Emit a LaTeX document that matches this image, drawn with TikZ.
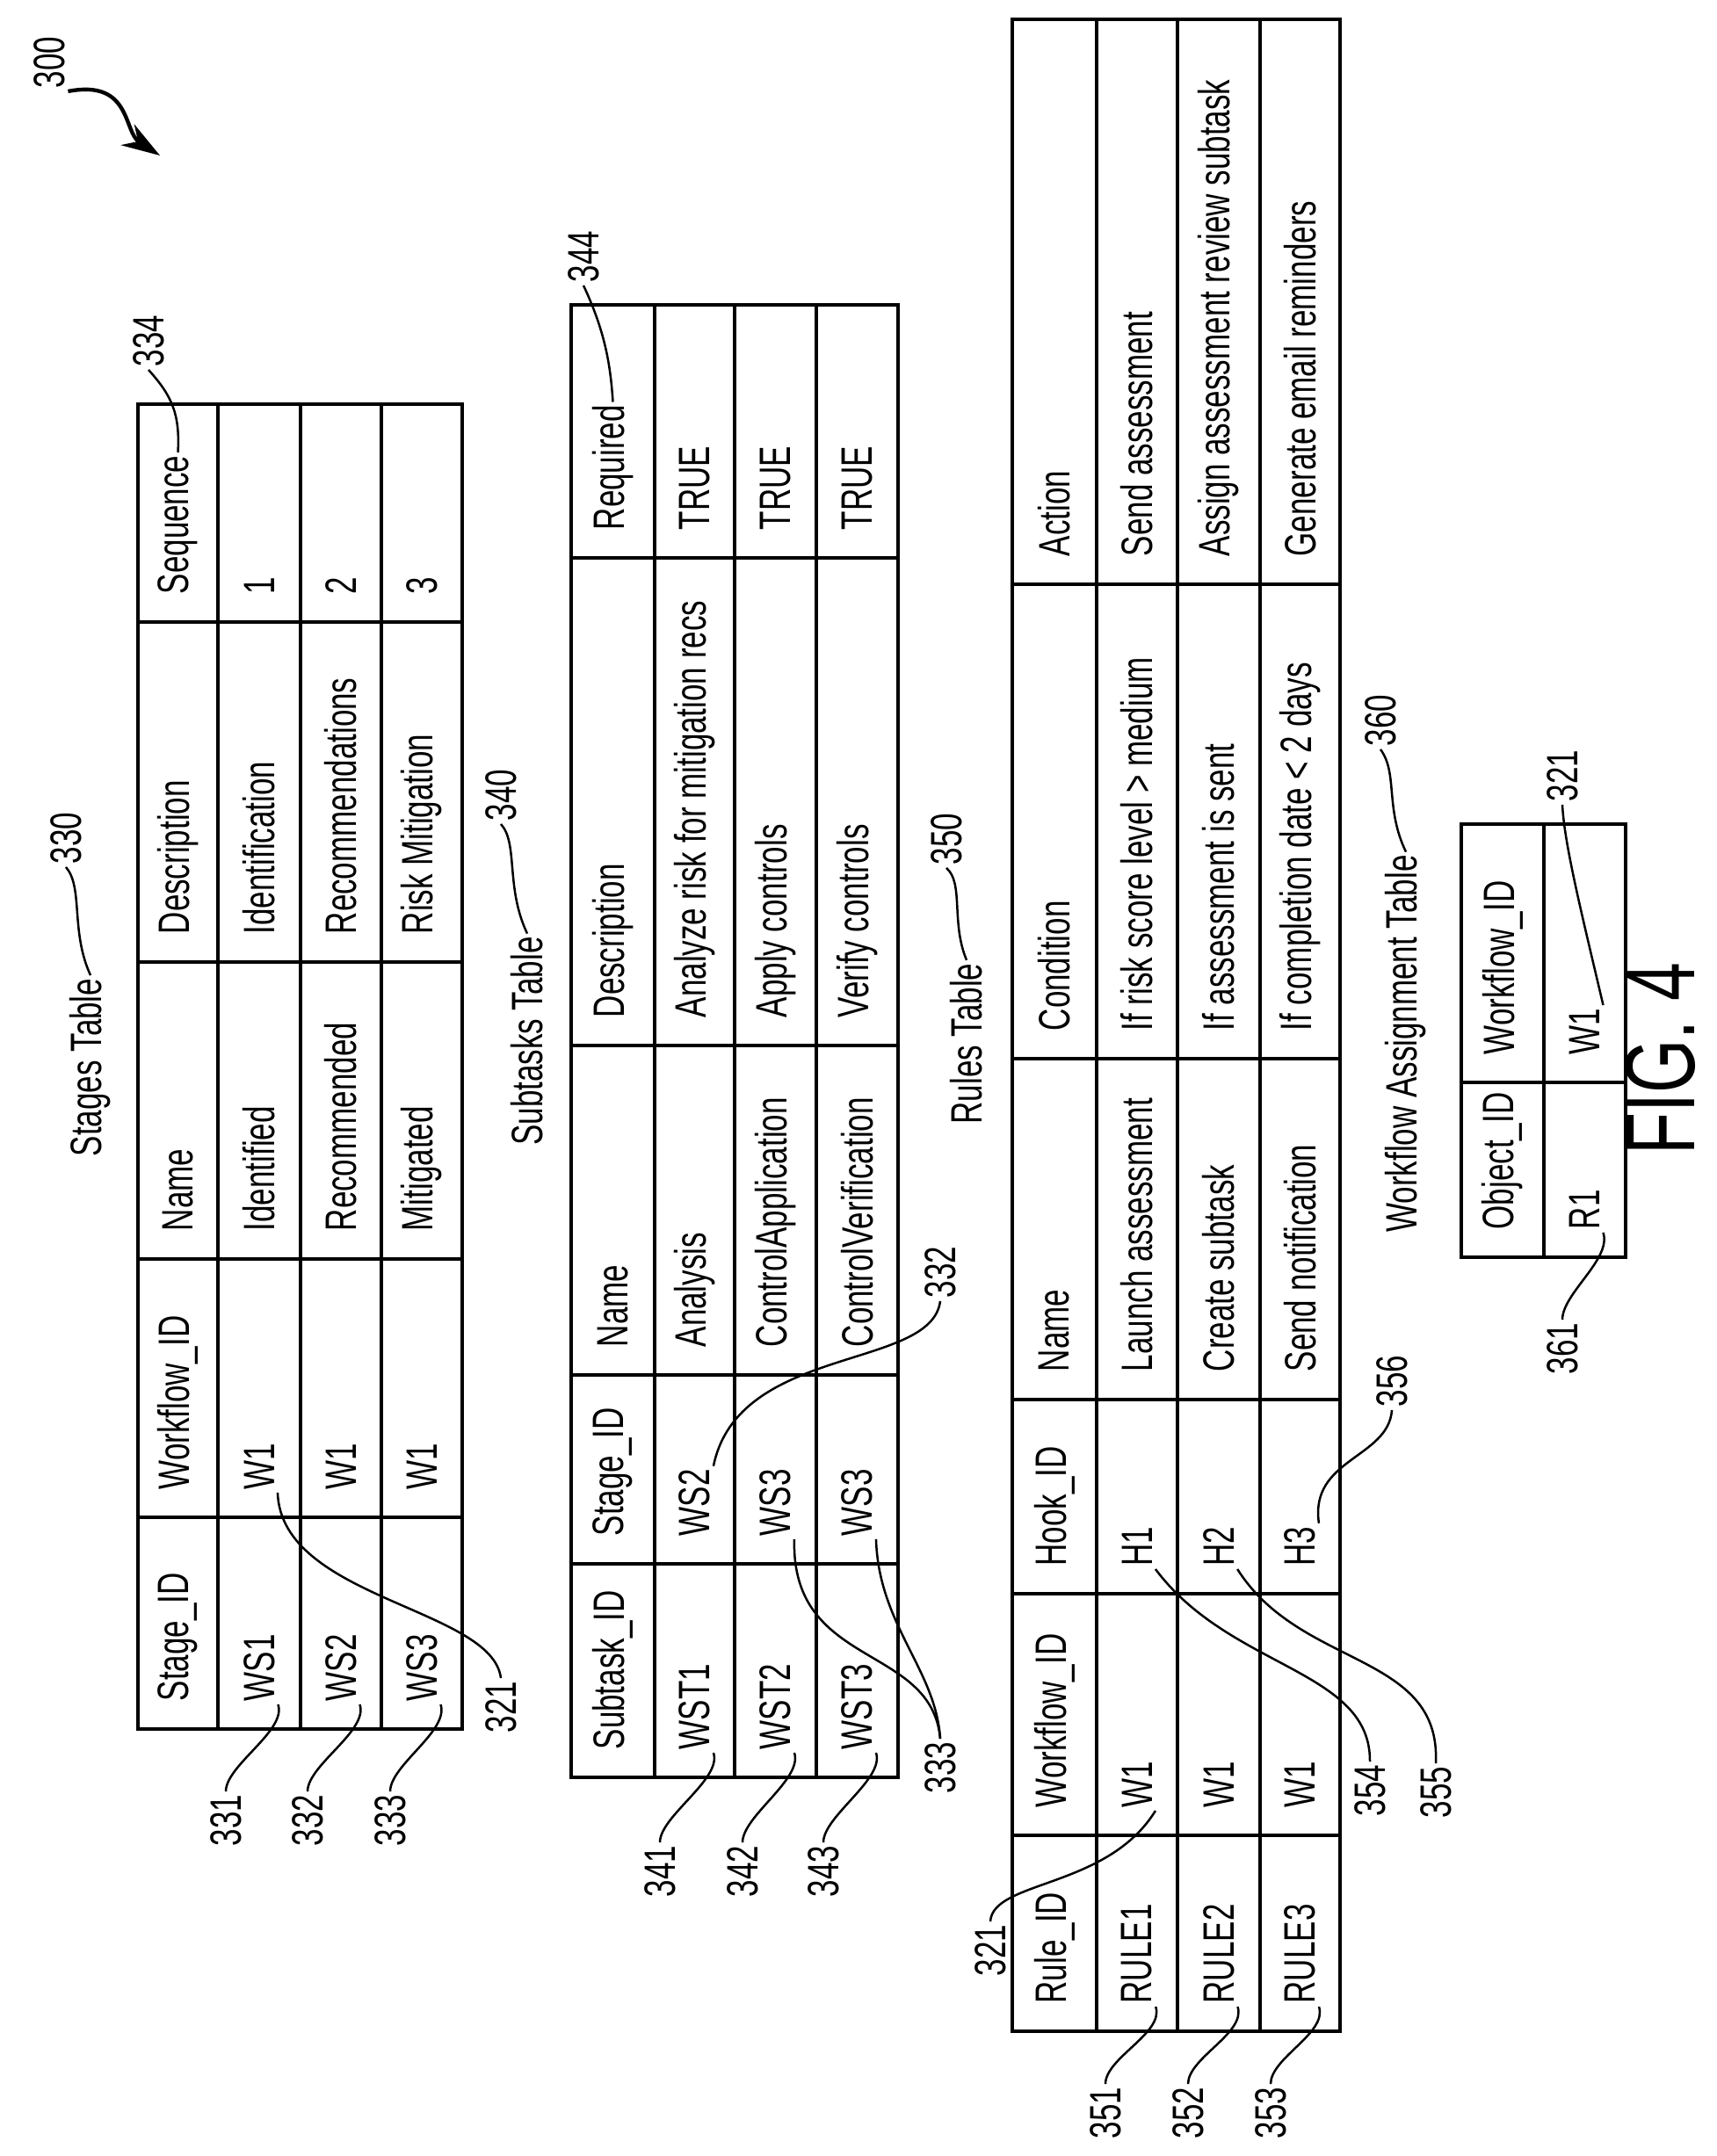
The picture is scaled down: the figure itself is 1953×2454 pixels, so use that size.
\documentclass[tikz,border=0pt]{standalone}
\usepackage{fontspec}
\setmainfont{Liberation Sans}[FakeStretch=0.7]
\usetikzlibrary{arrows.meta}
\def\stX{{157,248,342,434,526}}
\def\stY{{1968,1727,1433,1095,708,460}}
\def\suX{{650,745,836,929,1022}}
\def\suY{{2023,1780,1565,1190,635,347}}
\def\ruX{{1152,1248,1340,1434,1525}}
\def\ruY{{2312,2089,1814,1593,1205,665,22}}
\def\waX{{1663,1757,1850}}
\def\waY{{1431,1232,938}}
\tikzset{
  cell/.style={rotate=90, anchor=west, inner sep=1pt, font=\fontsize{16}{19}\selectfont},
  ref/.style={rotate=90, inner sep=1pt, font=\fontsize{16}{19}\selectfont},
  lead/.style={draw, line width=0.8pt},
  grid/.style={draw, line width=1pt}
}
% draw a table: name, row bounds, column bounds, rows, column count, row count
\newcommand{\mktable}[6]{%
  \foreach \rowtxt [count=\r] in {#4} {
    \foreach \txt [count=\c] in \rowtxt {
      \pgfmathsetmacro\xa{#2[\r-1]}
      \pgfmathsetmacro\xb{#2[\r]}
      \pgfmathsetmacro\ya{#3[\c-1]}
      \node[cell] (#1-\r-\c) at ({(\xa+\xb)/2}, \ya-28) {\txt};
    }
  }
  \foreach \r in {1,...,#6} {
    \foreach \c in {1,...,#5} {
      \pgfmathsetmacro\xa{#2[\r-1]}
      \pgfmathsetmacro\xb{#2[\r]}
      \pgfmathsetmacro\ya{#3[\c-1]}
      \pgfmathsetmacro\yb{#3[\c]}
      \path[grid] (\xa,\ya) -- (\xb,\ya) -- (\xb,\yb) -- (\xa,\yb) -- cycle;
    }
  }
}
\begin{document}
\begin{tikzpicture}[x=0.32pt, y=-0.32pt]
  \useasboundingbox (0,0) rectangle (1953,2454);

  % Stages table
  \node[ref] (t330) at (103,1215) {Stages Table};
  \mktable{st}{\stX}{\stY}{{Stage\_ID,Workflow\_ID,Name,Description,Sequence},
    {WS1,W1,Identified,Identification,1},
    {WS2,W1,Recommended,Recommendations,2},
    {WS3,W1,Mitigated,Risk Mitigation,3}}{5}{4}

  % Subtasks table
  \node[ref] (t340) at (600,1185) {Subtasks Table};
  \mktable{su}{\suX}{\suY}{{Subtask\_ID,Stage\_ID,Name,Description,Required},
    {WST1,WS2,Analysis,Analyze risk for mitigation recs,TRUE},
    {WST2,WS3,ControlApplication,Apply controls,TRUE},
    {WST3,WS3,ControlVerification,Verify controls,TRUE}}{5}{4}

  % Rules table
  \node[ref] (t350) at (1100,1188) {Rules Table};
  \mktable{ru}{\ruX}{\ruY}{{Rule\_ID,Workflow\_ID,Hook\_ID,Name,Condition,Action},
    {RULE1,W1,H1,Launch assessment,If risk score level > medium,Send assessment},
    {RULE2,W1,H2,Create subtask,If assessment is sent,Assign assessment review subtask},
    {RULE3,W1,H3,Send notification,If completion date < 2 days,Generate email reminders}}{6}{4}

  % Workflow assignment table
  \node[ref] (t360) at (1600,1188) {Workflow Assignment Table};
  \mktable{wa}{\waX}{\waY}{{Object\_ID,Workflow\_ID},{R1,W1}}{2}{2}

  \node[ref, font=\fontsize{36}{40}\selectfont] (fig) at (1890,1205) {FIG. 4};

  % Reference numerals
  \node[ref] (r300) at (56,71) {300};
  \node[ref] (r330) at (75,954) {330};
  \node[ref] (r340) at (570,905) {340};
  \node[ref] (r350) at (1077,955) {350};
  \node[ref] (r360) at (1571,820) {360};
  \node[ref] (r334) at (169,388) {334};
  \node[ref] (r344) at (664,292) {344};
  \node[ref] (r331) at (257,2072) {331};
  \node[ref] (r332) at (350,2072) {332};
  \node[ref] (r333) at (444,2072) {333};
  \node[ref] (r321a) at (570,1943) {321};
  \node[ref] (r341) at (751,2130) {341};
  \node[ref] (r342) at (845,2130) {342};
  \node[ref] (r343) at (937,2130) {343};
  \node[ref] (r332b) at (1070,1448) {332};
  \node[ref] (r333b) at (1070,2012) {333};
  \node[ref] (r321b) at (1127,2220) {321};
  \node[ref] (r351) at (1258,2405) {351};
  \node[ref] (r352) at (1352,2405) {352};
  \node[ref] (r353) at (1446,2405) {353};
  \node[ref] (r354) at (1559,2038) {354};
  \node[ref] (r355) at (1634,2040) {355};
  \node[ref] (r356) at (1584,1572) {356};
  \node[ref] (r361) at (1778,1535) {361};
  \node[ref] (r321c) at (1778,883) {321};

  % Leaders
  \draw[-{Stealth[length=14pt,width=9pt]}, line width=1.4pt] (r300.south west) .. controls (150,90) and (140,150) .. (182,177);
  \path[lead] (r330.west) .. controls (95,1010) and (80,1060) .. (t330.east);
  \path[lead] (r340.west) .. controls (590,960) and (575,1010) .. (t340.east);
  \path[lead] (r350.west) .. controls (1097,1005) and (1082,1050) .. (t350.east);
  \path[lead] (r360.west) .. controls (1591,880) and (1576,920) .. (t360.east);
  \path[lead] (r334.west) .. controls (195,450) and (205,470) .. (st-1-5.east);
  \path[lead] (r344.west) .. controls (690,380) and (695,420) .. (su-1-5.east);
  \foreach \n/\t in {331/st-2-1, 332/st-3-1, 333/st-4-1, 341/su-2-1, 342/su-3-1, 343/su-4-1,
                     351/ru-2-1, 352/ru-3-1, 353/ru-4-1, 361/wa-2-1}
    \path[lead] (r\n.east) .. controls +(0,-30) and +(10,30) .. (\t.south west);
  \path[lead] (st-2-2.south west) .. controls (320,1820) and (560,1830) .. (r321a.east);
  \path[lead] (su-2-2.south east) .. controls (840,1530) and (1060,1560) .. (r332b.west);
  \path[lead] (su-3-2.south west) .. controls (900,1900) and (1060,1870) .. (r333b.east);
  \path[lead] (su-4-2.south west) .. controls (1000,1850) and (1065,1900) .. (r333b.east);
  \path[lead] (ru-2-2.south west) .. controls (1260,2150) and (1130,2140) .. (r321b.east);
  \path[lead] (ru-2-3.south west) .. controls (1400,1900) and (1560,1900) .. (r354.east);
  \path[lead] (ru-3-3.south west) .. controls (1480,1900) and (1640,1880) .. (r355.east);
  \path[lead] (ru-4-3.south east) .. controls (1490,1660) and (1580,1660) .. (r356.west);
  \path[lead] (wa-2-2.south east) .. controls (1800,1040) and (1780,960) .. (r321c.west);
\end{tikzpicture}
\end{document}
